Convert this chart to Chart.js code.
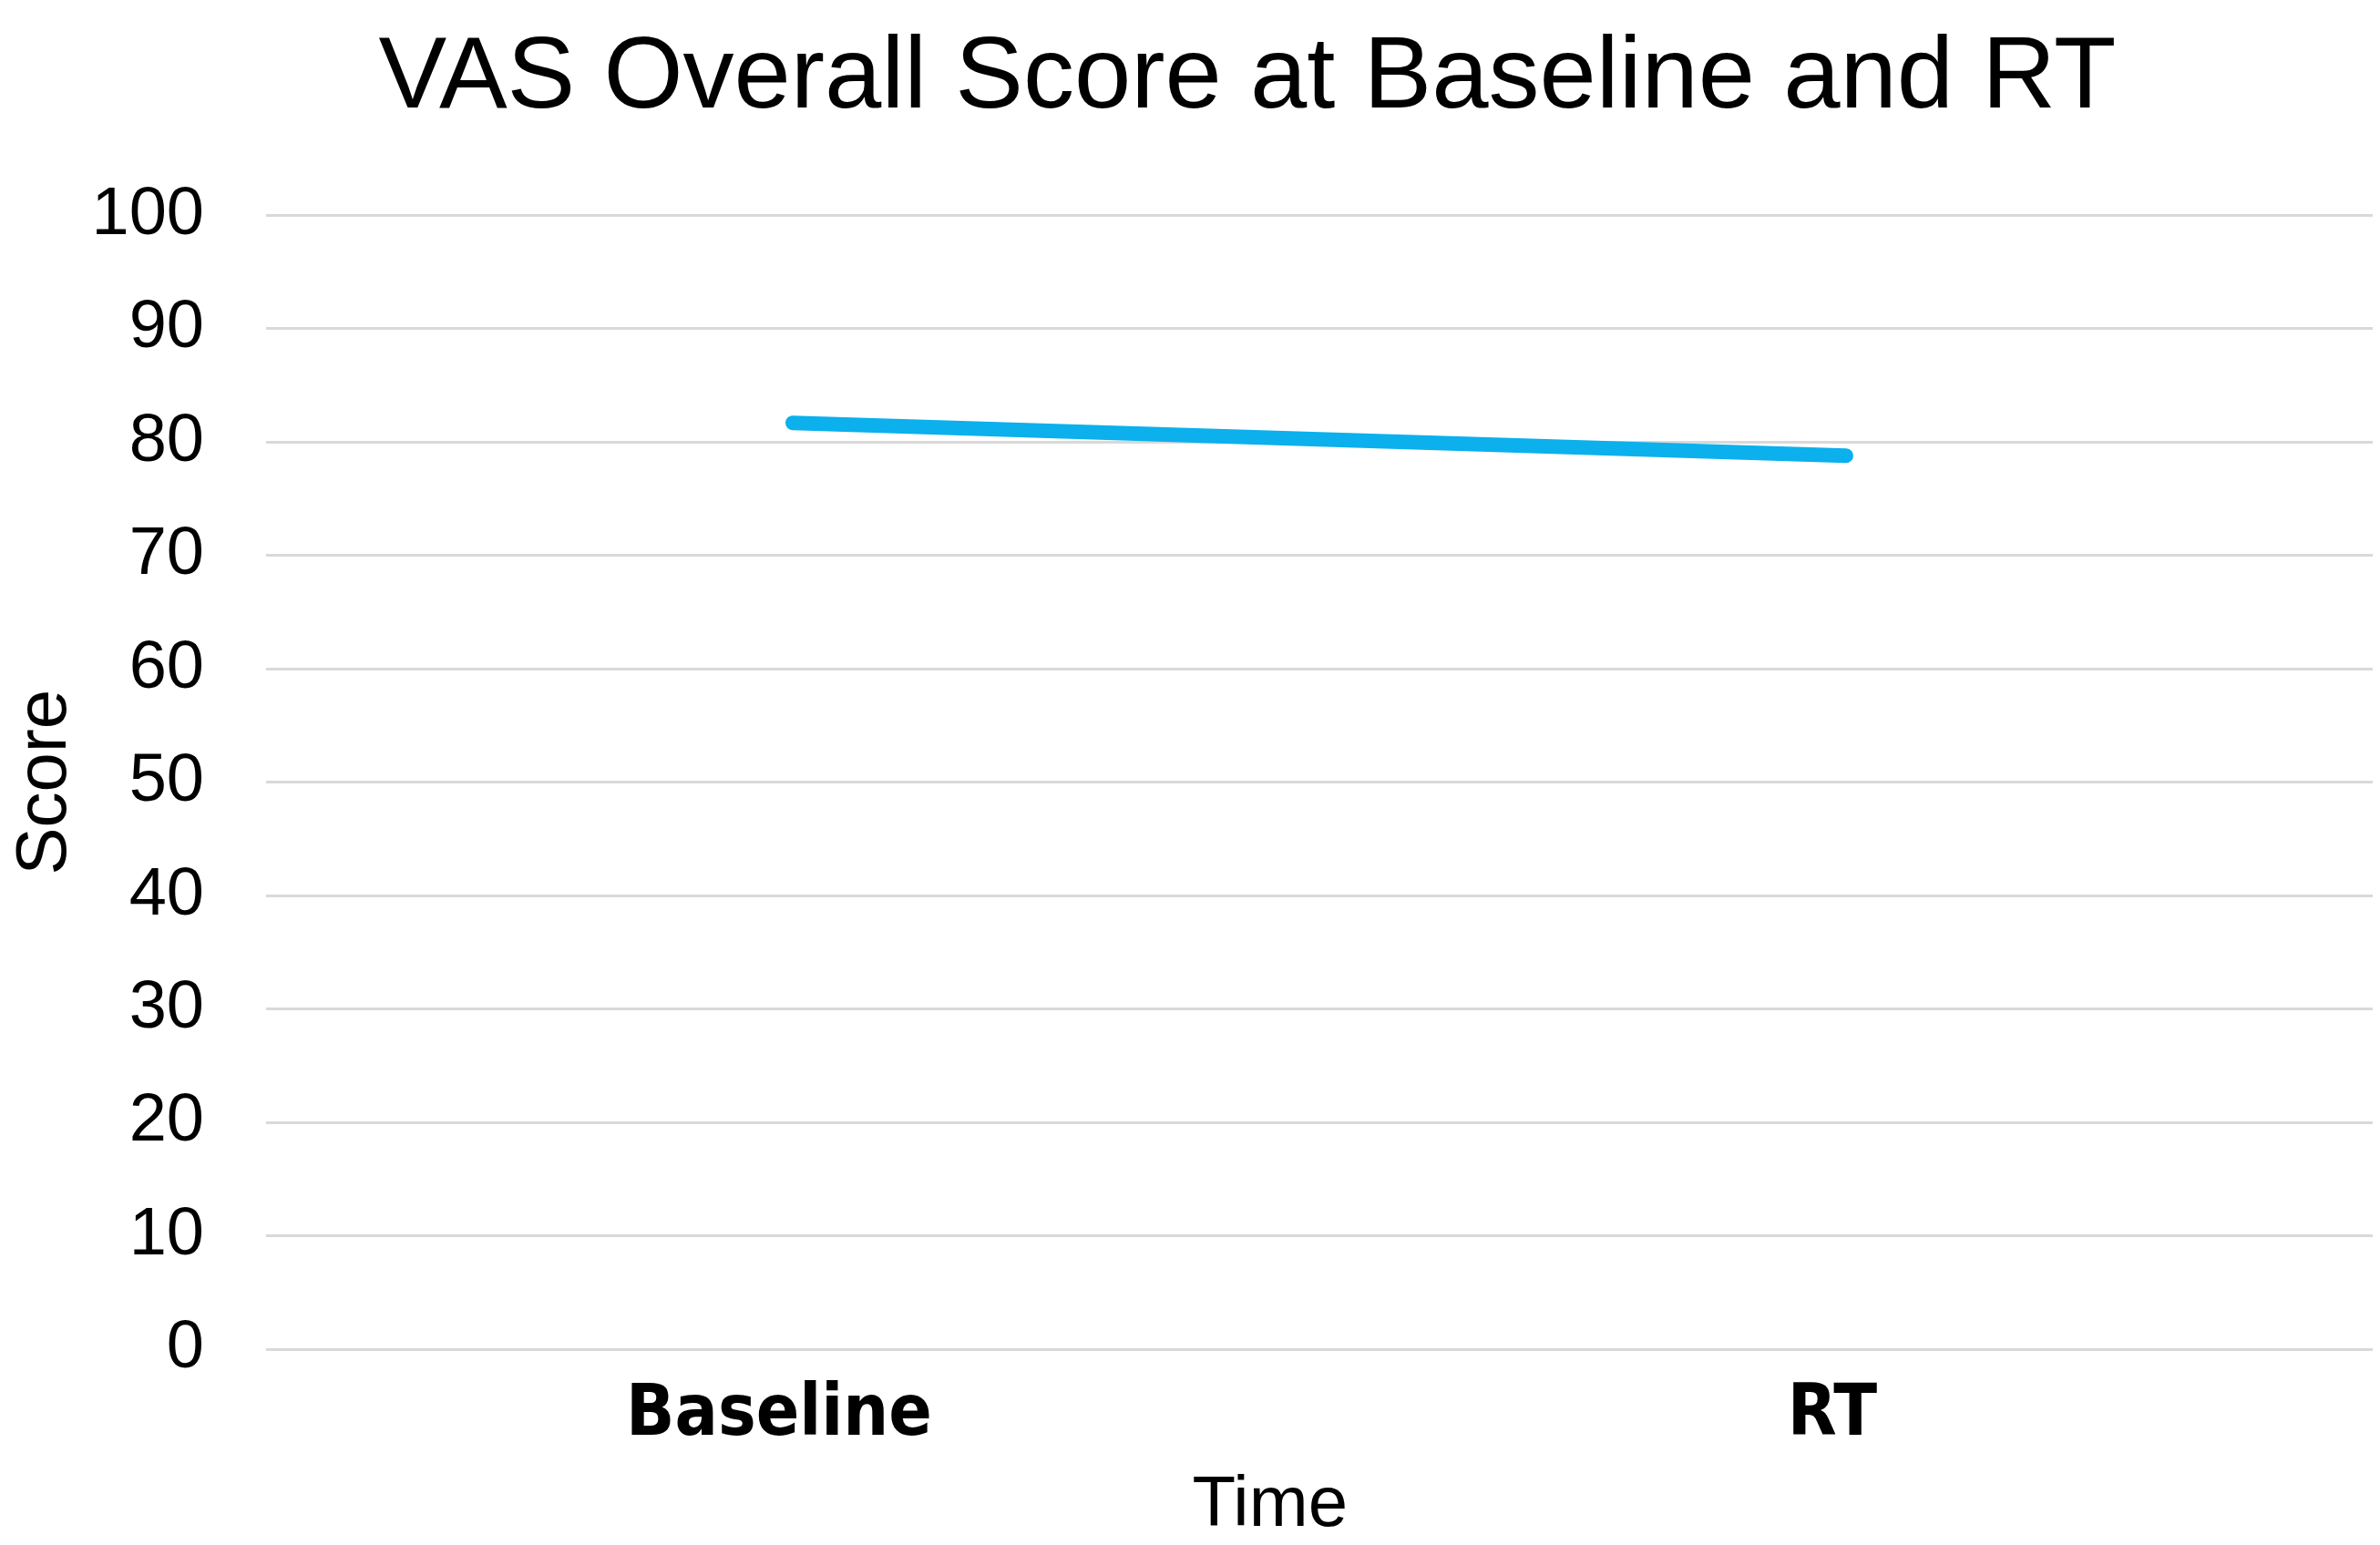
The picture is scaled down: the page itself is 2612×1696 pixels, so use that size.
<!DOCTYPE html>
<html>
<head>
<meta charset="utf-8">
<title>VAS Overall Score</title>
<script src="https://cdn.jsdelivr.net/npm/chart.js@4/dist/chart.umd.min.js"></script>
<style>
	html, body {margin: 0; padding: 0; background: #ffffff;}
	canvas {display: block;}
</style>
</head>
<body>
<canvas id="chart" width="2612" height="1696"></canvas>
<script>
'use strict';

//values
const timePoints = ['Baseline', 'RT'];
const vasScores = [81.7, 78.8];
const yTicks = [0, 10, 20, 30, 40, 50, 60, 70, 80, 90, 100];

const SANS = '"Liberation Sans", Arial, Helvetica, sans-serif';
const NARROW = '"Liberation Sans Narrow", "DejaVu Sans Condensed", "Liberation Sans", sans-serif';

const plugins = [
	{
		id: 'backgroundColour',
		beforeDraw: (chart) => {
			const {ctx} = chart;
			ctx.save();
			ctx.globalCompositeOperation = 'destination-over';
			ctx.fillStyle = '#ffffff';
			ctx.fillRect(0, 0, chart.width, chart.height);
			ctx.restore();
		}
	},
	{
		//reference title sits a little right of the canvas centre
		id: 'titleNudge',
		afterLayout: (chart) => {
			if (chart.titleBlock) {
				chart.titleBlock.left += 67;
				chart.titleBlock.right += 67;
			}
		}
	}
];

const lineGraph = new Chart(
	document.getElementById('chart'), {
		type: 'line',
		data: {
			labels: timePoints,
			datasets: [{
				label: 'VAS Overall Score',
				data: vasScores,
				borderColor: '#0bb0ec',
				borderWidth: 16,
				borderCapStyle: 'round',
				pointRadius: 0,
				tension: 0
			}]
		},
		options: {
			animation: false,
			responsive: false,
			layout: {
				padding: {left: 0, right: 8, top: 20, bottom: 0}
			},
			plugins: {
				legend: {display: false},
				tooltip: {enabled: false},
				title: {
					display: true,
					text: 'VAS Overall Score at Baseline and RT',
					color: '#000000',
					font: {family: SANS, size: 112, weight: 'normal'},
					padding: {top: 0, bottom: 82}
				}
			},
			scales: {
				x: {
					offset: true,
					afterFit: (axis) => {
						axis.height = 215;
					},
					border: {display: false},
					grid: {display: false, drawTicks: false},
					ticks: {
						color: '#000000',
						font: {family: NARROW, size: 78, weight: 'bold', lineHeight: 0.67},
						padding: 48,
						labelOffset: -15
					},
					title: {
						display: true,
						text: 'Time     ',
						color: '#000000',
						font: {family: SANS, size: 78, lineHeight: 1.1},
						padding: {top: 0, bottom: 0}
					}
				},
				y: {
					min: 0,
					max: 100,
					afterBuildTicks: (axis) => {
						axis.ticks = yTicks.map(v => ({value: v}));
					},
					afterFit: (axis) => {
						axis.width = 292;
					},
					border: {display: false},
					grid: {color: '#d9d9d9', lineWidth: 3, drawTicks: false},
					ticks: {
						color: '#000000',
						font: {family: SANS, size: 74},
						padding: 68
					},
					title: {
						display: true,
						text: 'Score',
						color: '#000000',
						font: {family: SANS, size: 78},
						padding: {top: 4, bottom: 0}
					}
				}
			}
		},
		plugins: plugins
	}
);
</script>
</body>
</html>
